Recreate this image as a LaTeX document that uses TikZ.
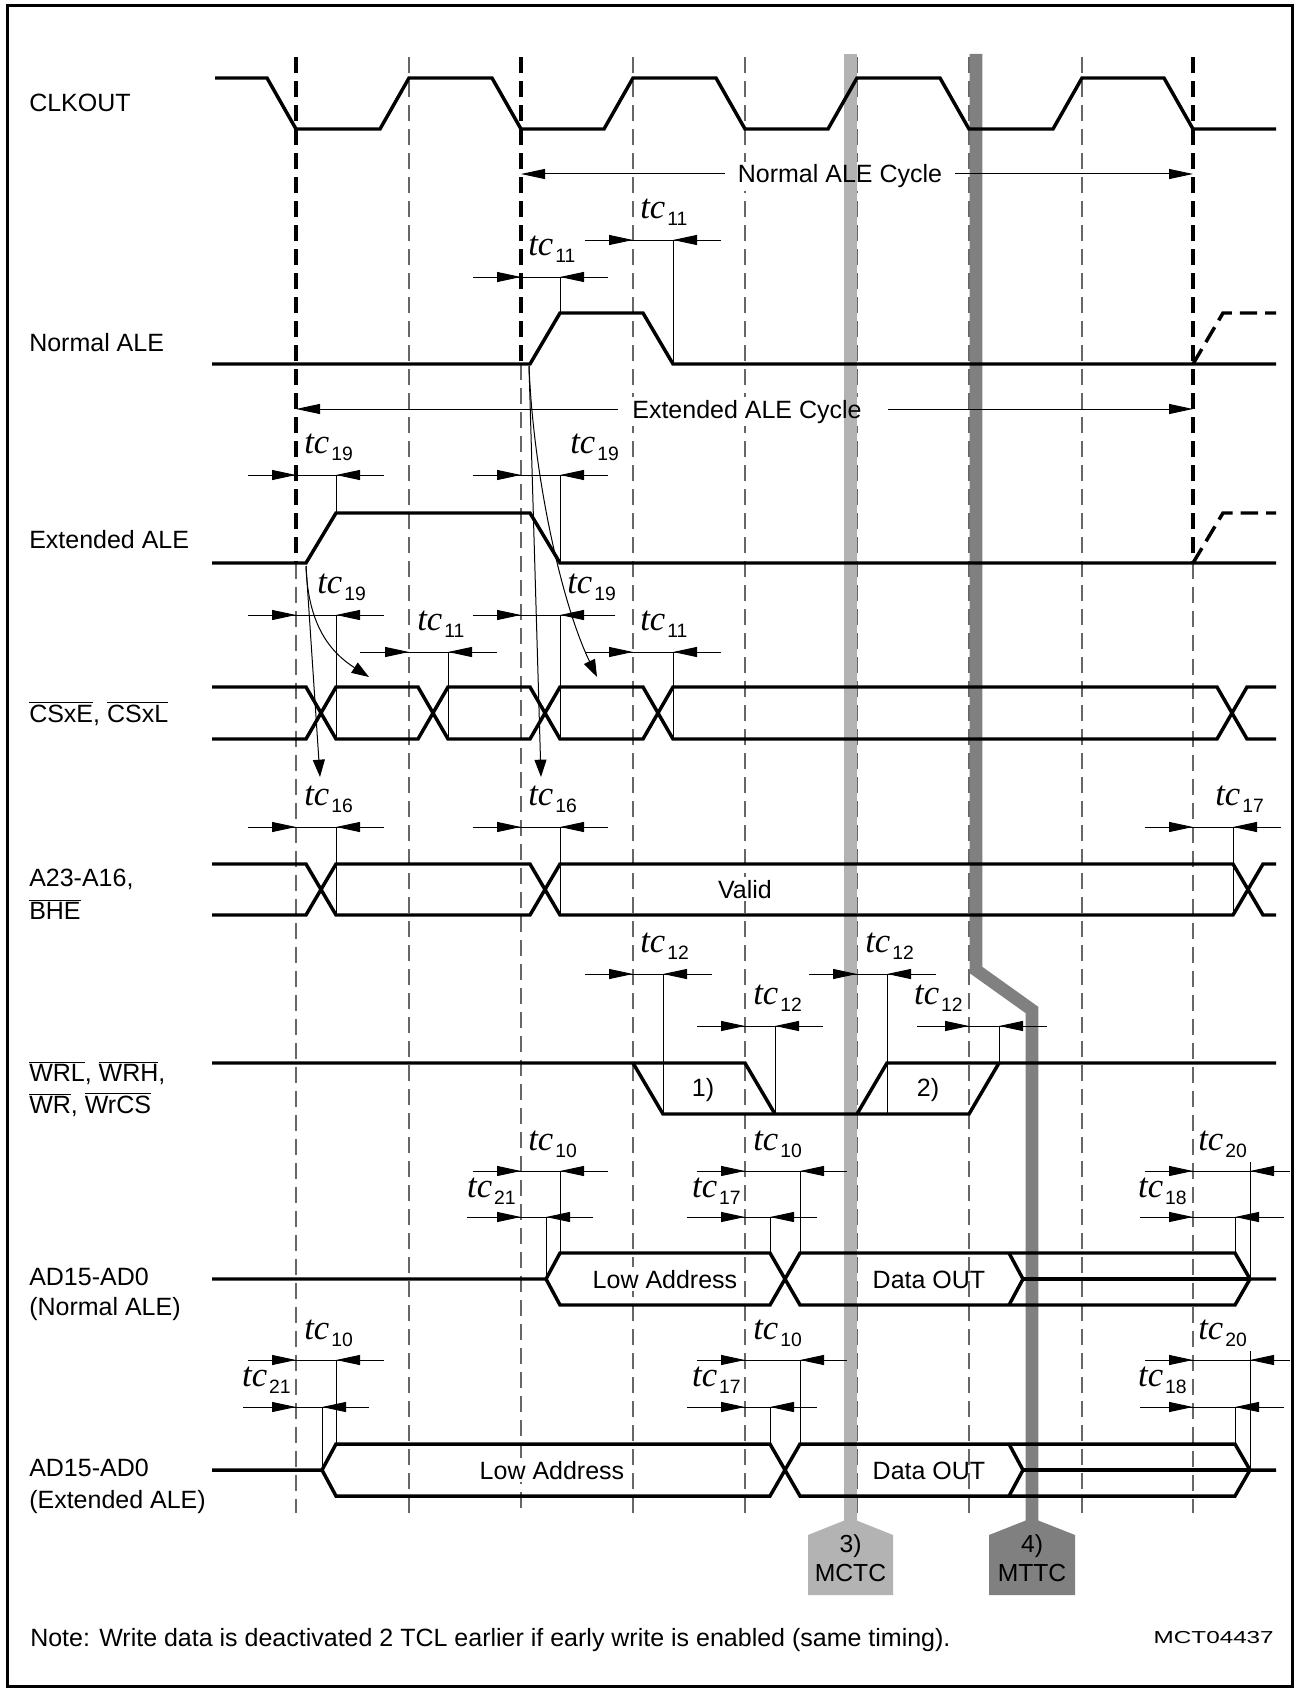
\documentclass[tikz,border=0pt]{standalone}
\usepackage{fontspec}
\usepackage{graphicx}
\setmainfont{Liberation Sans}
\newfontfamily\tcserif{Liberation Serif}
\usetikzlibrary{arrows.meta}
\definecolor{bandlight}{HTML}{B3B3B3}
\definecolor{banddark}{HTML}{808080}
\newcommand{\tcl}[1]{{\tcserif\itshape\fontsize{26}{26}\selectfont tc}\hspace{1.5pt}\raisebox{-5.5pt}{\fontsize{14.5}{14.5}\selectfont #1}}
\newcommand{\ovl}[1]{$\overline{\mbox{#1}}$}
% dimension: L, xa, xb, R, y, tick end
\newcommand{\dimz}[6]{%
  \draw[dimln] (#1,#5) -- (#4,#5);
  \draw[arr] (#1,#5) -- (#2,#5);
  \draw[arr] (#4,#5) -- (#3,#5);
  \draw[dimln] (#3,#5) -- (#3,#6);}
\begin{document}
\begin{tikzpicture}[x=0.75pt,y=-0.75pt,
  sig/.style={line width=2.6pt},
  grd/.style={line width=0.9pt, black!60, dash pattern=on 12pt off 6pt},
  tgrd/.style={line width=3pt, black, dash pattern=on 12pt off 6pt},
  dimln/.style={line width=0.75pt},
  arr/.style={line width=0.75pt,-{Triangle[length=18pt,width=7.5pt]}},
  carr/.style={line width=0.75pt,-{Triangle[length=13pt,width=9pt]}},
  lbl/.style={font=\fontsize{18.75}{22.5}\selectfont, inner sep=0pt, anchor=base west},
  txt/.style={font=\fontsize{18.75}{22.5}\selectfont, inner sep=0pt, anchor=base},
  tcw/.style={inner sep=0pt, anchor=base west},
  tce/.style={inner sep=0pt, anchor=base east}]
\useasboundingbox (0,0) rectangle (1300,1691);
\draw[line width=2.25pt] (7,6) rectangle (1292,1686);

% ---- grid lines
\foreach \gx in {409,633,745,857,969,1082} \draw[grd] (\gx,57) -- (\gx,1513);
\draw[grd] (296,563) -- (296,1513);
\draw[grd] (521,364) -- (521,1513);
\draw[grd] (1193,563) -- (1193,1513);
\draw[tgrd] (296,57) -- (296,563);
\draw[tgrd] (521,57) -- (521,364);
\draw[tgrd] (1193,57) -- (1193,563);

% ---- white backgrounds of cycle texts
\node[txt, fill=white, text opacity=0, inner sep=2pt] (bgn) at (840,183) {Normal ALE Cycle};
\node[txt, fill=white, text opacity=0, inner sep=2pt] (bge) at (747,418) {Extended ALE Cycle};

% ---- gray bands
\draw[bandlight, line width=9.75pt] (850.5,54) -- (850.5,1525);
\draw[banddark, line width=9.4pt, line join=miter] (976,54) -- (976,970) -- (1032,1010) -- (1032,1525);

% ---- cycle arrows
\draw[arr] (725,174) -- (521,174);
\draw[arr] (955,174) -- (1193,174);
\draw[arr] (618,409) -- (296,409);
\draw[arr] (888,409) -- (1193,409);
\node[txt] (ncyc) at (840,183) {Normal ALE Cycle};
\node[txt] (ecyc) at (747,418) {Extended ALE Cycle};

% ---- CLKOUT
\draw[sig] (215,78) -- (267,78) -- (296,129) -- (380,129) -- (409,78) -- (492,78) -- (521,129) -- (604,129) -- (633,78) -- (716,78) -- (745,129) -- (828,129) -- (857,78) -- (940,78) -- (969,129) -- (1053,129) -- (1082,78) -- (1164,78) -- (1193,129) -- (1276,129);

% ---- Normal ALE
\draw[sig] (212,364) -- (530,364) -- (560,313) -- (643,313) -- (673,364) -- (1276,364);
\draw[sig, dash pattern=on 13pt off 6pt] (1193,364) -- (1223,313) -- (1276,313);

% ---- Extended ALE
\draw[sig] (212,563) -- (306,563) -- (336,513) -- (530,513) -- (560,563) -- (1276,563);
\draw[sig, dash pattern=on 13pt off 6pt] (1193,563) -- (1223,513) -- (1276,513);

% ---- CSxE bus
\draw[sig] (212,687) -- (306,687) -- (336,739) -- (418,739) -- (448,687) -- (530,687) -- (560,739) -- (643,739) -- (673,687) -- (1217,687) -- (1247,739) -- (1276,739);
\draw[sig] (212,739) -- (306,739) -- (336,687) -- (418,687) -- (448,739) -- (530,739) -- (560,687) -- (643,687) -- (673,739) -- (1217,739) -- (1247,687) -- (1276,687);

% ---- A23 bus
\draw[sig] (212,864) -- (306,864) -- (336,915) -- (530,915) -- (560,864) -- (1233,864) -- (1263,915) -- (1276,915);
\draw[sig] (212,915) -- (306,915) -- (336,864) -- (530,864) -- (560,915) -- (1233,915) -- (1263,864) -- (1276,864);
\node[txt, fill=white, inner sep=2pt] (valid) at (745,898) {Valid};

% ---- WRL
\draw[sig] (212,1063) -- (745,1063) -- (775,1114);
\draw[sig] (633,1063) -- (663,1114) -- (969,1114) -- (999,1063);
\draw[sig] (857,1114) -- (887,1063) -- (1276,1063);
\node[txt] (w1) at (703,1096) {1)};
\node[txt] (w2) at (928,1096) {2)};

% ---- AD normal
\draw[sig] (212,1279) -- (546,1279) -- (560,1253) -- (770,1253) -- (800,1305) -- (1235,1305) -- (1250,1279) -- (1276,1279);
\draw[sig] (546,1279) -- (560,1305) -- (770,1305) -- (800,1253) -- (1235,1253) -- (1250,1279);
\draw[sig] (1009,1253) -- (1023,1279) -- (1009,1305);
\draw[sig] (1023,1279) -- (1250,1279);
\node[txt, fill=white, inner sep=2pt] (lan) at (665,1288) {Low Address};
\node[txt] (dan) at (929,1288) {Data OUT};

% ---- AD extended
\draw[sig] (212,1470) -- (322,1470) -- (336,1444) -- (770,1444) -- (800,1496) -- (1235,1496) -- (1250,1470) -- (1276,1470);
\draw[sig] (322,1470) -- (336,1496) -- (770,1496) -- (800,1444) -- (1235,1444) -- (1250,1470);
\draw[sig] (1009,1444) -- (1023,1470) -- (1009,1496);
\draw[sig] (1023,1470) -- (1250,1470);
\node[txt, fill=white, inner sep=2pt] (lae) at (552,1479) {Low Address};
\node[txt] (dae) at (929,1479) {Data OUT};

% ---- causal arrows
\draw[carr] (306,566) .. controls (308,625) and (330,652) .. (369,677);
\draw[carr] (306,566) -- (320,777);
\draw[carr] (529,366) .. controls (533,470) and (560,600) .. (597,677);
\draw[carr] (529,366) -- (541,777);

% ---- dimensions
\dimz{473}{521}{560}{608}{277}{313}
\dimz{585}{633}{673}{721}{240}{364}
\dimz{248}{296}{336}{384}{475}{513}
\dimz{473}{521}{560}{608}{475}{563}
\dimz{248}{296}{336}{384}{615}{739}
\dimz{473}{521}{560}{615}{615}{739}
\dimz{360}{409}{448}{497}{652}{739}
\dimz{585}{633}{673}{721}{652}{739}
\dimz{248}{296}{336}{384}{827}{915}
\dimz{473}{521}{560}{608}{827}{915}
\dimz{1145}{1193}{1233}{1281}{827}{915}
\dimz{585}{633}{663}{712}{974}{1114}
\dimz{697}{745}{775}{823}{1026}{1114}
\dimz{809}{857}{887}{936}{974}{1114}
\dimz{917}{969}{999}{1047}{1026}{1063}
\dimz{473}{521}{560}{608}{1171}{1253}
\dimz{467}{521}{546}{593}{1217}{1279}
\dimz{697}{745}{800}{847}{1171}{1253}
\dimz{687}{745}{770}{817}{1217}{1253}
\dimz{1145}{1193}{1250}{1290}{1171}{1279}
\dimz{1140}{1193}{1235}{1284}{1217}{1253}
\dimz{248}{296}{336}{384}{1360}{1444}
\dimz{243}{296}{322}{369}{1407}{1470}
\dimz{697}{745}{800}{847}{1360}{1444}
\dimz{687}{745}{770}{817}{1407}{1444}
\dimz{1145}{1193}{1250}{1290}{1360}{1470}
\dimz{1140}{1193}{1235}{1284}{1407}{1444}
\draw[dimln] (1250,1162) -- (1250,1171);
\draw[dimln] (1250,1351) -- (1250,1360);

% ---- timing labels
\node[tcw] (t1) at (528,255) {\tcl{11}};
\node[tcw] (t2) at (640,218) {\tcl{11}};
\node[tcw] (t3) at (304,453) {\tcl{19}};
\node[tcw] (t4) at (570,453) {\tcl{19}};
\node[tcw] (t5) at (317,593) {\tcl{19}};
\node[tcw] (t6) at (567,593) {\tcl{19}};
\node[tcw] (t7) at (417,630) {\tcl{11}};
\node[tcw] (t8) at (640,630) {\tcl{11}};
\node[tcw] (t9) at (304,805) {\tcl{16}};
\node[tcw] (t10) at (528,805) {\tcl{16}};
\node[tcw] (t11) at (1215,805) {\tcl{17}};
\node[tcw] (t12) at (640,952) {\tcl{12}};
\node[tcw] (t13) at (753,1004) {\tcl{12}};
\node[tcw] (t14) at (865,952) {\tcl{12}};
\node[tce] (t15) at (963,1004) {\tcl{12}};
\node[tcw] (t16) at (528,1150) {\tcl{10}};
\node[tce] (t17) at (516,1197) {\tcl{21}};
\node[tcw] (t18) at (753,1150) {\tcl{10}};
\node[tce] (t19) at (741,1197) {\tcl{17}};
\node[tcw] (t20) at (1198,1150) {\tcl{20}};
\node[tce] (t21) at (1187,1197) {\tcl{18}};
\node[tcw] (t22) at (304,1339) {\tcl{10}};
\node[tce] (t23) at (291,1386) {\tcl{21}};
\node[tcw] (t24) at (753,1339) {\tcl{10}};
\node[tce] (t25) at (741,1386) {\tcl{17}};
\node[tcw] (t26) at (1198,1339) {\tcl{20}};
\node[tce] (t27) at (1187,1386) {\tcl{18}};

% ---- signal names
\node[lbl] (n1) at (29,112) {CLKOUT};
\node[lbl] (n2) at (29,351) {Normal ALE};
\node[lbl] (n3) at (29,548) {Extended ALE};
\node[lbl] (n4) at (29,722) {\ovl{CSxE}, \ovl{CSxL}};
\node[lbl] (n5) at (29,886) {A23-A16,};
\node[lbl] (n6) at (29,919) {\ovl{BHE}};
\node[lbl] (n7) at (29,1081) {\ovl{WRL}, \ovl{WRH},};
\node[lbl] (n8) at (29,1113) {\ovl{WR}, \ovl{WrCS}};
\node[lbl] (n9) at (29,1285) {AD15-AD0};
\node[lbl] (n10) at (29,1315) {(Normal ALE)};
\node[lbl] (n11) at (29,1476) {AD15-AD0};
\node[lbl] (n12) at (29,1508) {(Extended ALE)};

% ---- band tags
\fill[bandlight] (808,1535) -- (850.5,1518) -- (893,1535) -- (893,1595) -- (808,1595) -- cycle;
\fill[banddark] (989,1535) -- (1032,1518) -- (1075,1535) -- (1075,1595) -- (989,1595) -- cycle;
\node[txt, font=\fontsize{18.5}{20}\selectfont] (m1) at (850.5,1552) {3)};
\node[txt, font=\fontsize{18.5}{20}\selectfont] (m2) at (850.5,1581) {MCTC};
\node[txt, font=\fontsize{18.5}{20}\selectfont] (m3) at (1032,1552) {4)};
\node[txt, font=\fontsize{18.5}{20}\selectfont] (m4) at (1032,1581) {MTTC};

% ---- note
\node[lbl] (note) at (30,1646) {Note: Write data is deactivated 2 TCL earlier if early write is enabled (same timing).};
\node[inner sep=0pt, anchor=base east] (code) at (1274,1643) {\scalebox{1.4}[1]{\fontsize{13}{13}\selectfont MCT04437}};
\end{tikzpicture}
\end{document}
